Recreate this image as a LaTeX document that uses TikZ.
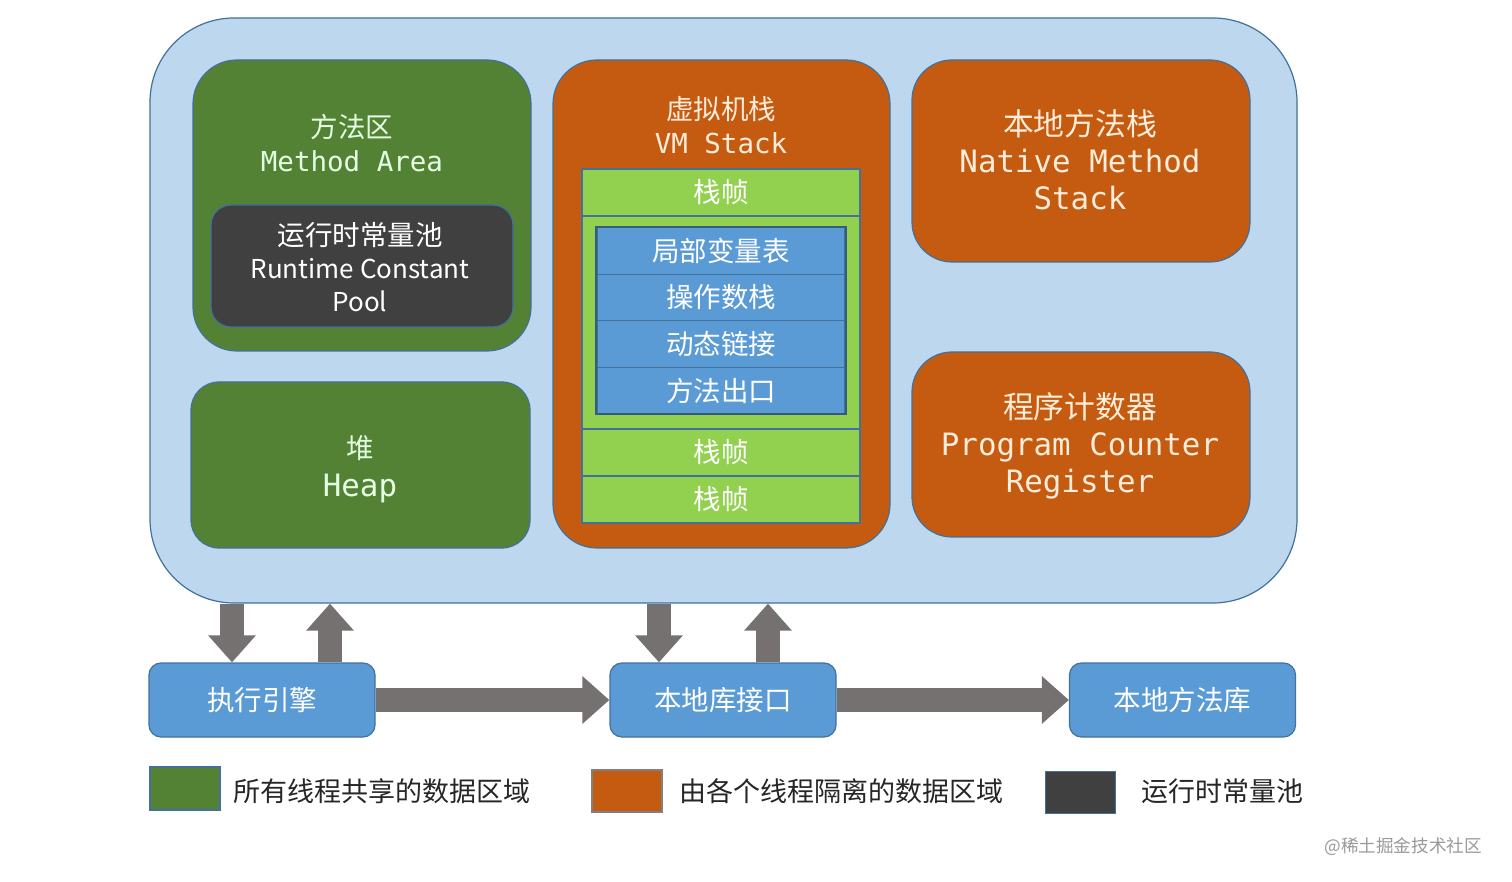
\documentclass[tikz,border=0pt]{standalone}
\usepackage{fontspec}
\setmainfont{Noto Sans CJK SC}
\newfontfamily\monofont{DejaVu Sans Mono}
\usetikzlibrary{arrows.meta,fit}

\definecolor{jvmblue}{HTML}{BDD7EE}
\definecolor{edgeblue}{HTML}{41719C}
\definecolor{sharedgreen}{HTML}{548235}
\definecolor{threadorange}{HTML}{C55A11}
\definecolor{pooldark}{HTML}{404040}
\definecolor{framegreen}{HTML}{92D050}
\definecolor{cellblue}{HTML}{5B9BD5}
\definecolor{arrowgray}{HTML}{767171}
\definecolor{legendink}{HTML}{262626}

\tikzset{
    region/.style={draw=edgeblue, line width=0.6pt, inner sep=0pt},
    shared/.style={region, fill=sharedgreen, rounded corners=22pt},
    private/.style={region, fill=threadorange, rounded corners=22pt},
    pool/.style={region, fill=pooldark, rounded corners=10pt},
    frame/.style={region, fill=framegreen, text=white, minimum width=139pt, minimum height=23.5pt},
    cell/.style={region, fill=cellblue, text=white, minimum width=124pt, minimum height=23.25pt},
    engine/.style={region, fill=cellblue, text=white, rounded corners=6pt, minimum width=113pt, minimum height=37pt},
    swatch/.style={region, minimum width=35pt, minimum height=21pt},
    caption/.style={align=center, font=\fontsize{13.75pt}{16.75pt}\selectfont},
    bigcaption/.style={align=center, font=\fontsize{15.4pt}{18.5pt}\selectfont},
    keytext/.style={anchor=west, text=legendink, font=\fontsize{13.5pt}{16pt}\selectfont},
    bigarrow/.style={draw=arrowgray, line width=12pt, -{Triangle[length=13.5pt, width=23pt, fill=arrowgray]}},
}

\begin{document}
\begin{tikzpicture}[x=0.5pt, y=-0.5pt]
    \useasboundingbox (0,0) rectangle (1512,882);
    \fill[white] (0,0) rectangle (1512,882);

    \node[region, fill=jvmblue, rounded corners=42pt, fit={(150,18) (1297,603)}] (jvm) {};

    % shared areas
    \node[shared, fit={(193,60) (531,351)}] (method) {};
    \node[caption, text=white!90!green] (method-text) at (352,143) {方法区\\{\monofont Method Area}};
    \node[pool, fit={(211,205) (513,327)}] (pool) {};
    \node[caption, text=white, font=\fontsize{13.75pt}{16.5pt}\selectfont] (pool-text) at (360,267) {运行时常量池\\{\fontsize{13pt}{16.5pt}\selectfont Runtime Constant}\\{\fontsize{13pt}{16.5pt}\selectfont Pool}};
    \node[shared, rounded corners=14pt, fit={(191,382) (530,548)}] (heap) {};
    \node[bigcaption, text=white!90!green, font=\fontsize{15.4pt}{19pt}\selectfont] (heap-text) at (360,469) {{\fontsize{13.75pt}{19pt}\selectfont 堆}\\{\monofont Heap}};

    % vm stack
    \node[private, fit={(553,60) (890,548)}] (vmstack) {};
    \node[caption, text=white!85!orange] (vmstack-text) at (721,125) {虚拟机栈\\{\monofont VM Stack}};
    \node[frame, caption] (frame1) at (721,192.5) {栈帧};
    \node[frame, fit={(582,216) (860,429)}] (frame2) {};
    \node[frame, caption] (frame3) at (721,452.5) {栈帧};
    \node[frame, caption] (frame4) at (721,499.5) {栈帧};
    \node[cell, caption] (cell1) at (721,251) {局部变量表};
    \node[cell, caption] (cell2) at (721,297.5) {操作数栈};
    \node[cell, caption] (cell3) at (721,344) {动态链接};
    \node[cell, caption] (cell4) at (721,390.5) {方法出口};
    \draw[edgeblue!80!black, line width=1pt] (cell1.north west) rectangle (cell4.south east);

    % native method stack and pc register
    \node[private, rounded corners=20pt, fit={(912,60) (1250,262)}] (native) {};
    \node[bigcaption, text=white!85!orange] (native-text) at (1080,160) {本地方法栈\\{\monofont Native Method}\\{\monofont Stack}};
    \node[private, rounded corners=20pt, fit={(912,352) (1250,537)}] (pc) {};
    \node[bigcaption, text=white!85!orange] (pc-text) at (1080,446) {程序计数器\\{\monofont Program Counter}\\{\monofont Register}};

    % engines
    \node[engine, caption] (exec) at (262,700) {执行引擎};
    \node[engine, caption] (jni) at (723,700) {本地库接口};
    \node[engine, caption] (lib) at (1182.5,700) {本地方法库};

    \draw[bigarrow] ([xshift=-15pt]exec.north |- jvm.south) -- ([xshift=-15pt]exec.north);
    \draw[bigarrow] ([xshift=34pt]exec.north) -- ([xshift=34pt]exec.north |- jvm.south);
    \draw[bigarrow] ([xshift=-32pt]jni.north |- jvm.south) -- ([xshift=-32pt]jni.north);
    \draw[bigarrow] ([xshift=22.5pt]jni.north) -- ([xshift=22.5pt]jni.north |- jvm.south);
    \draw[bigarrow] (exec.east) -- (jni.west);
    \draw[bigarrow] (jni.east) -- (lib.west);

    % legend
    \node[swatch, fill=sharedgreen, fit={(150,767) (220,810)}] (key-shared) {};
    \node[keytext] (key-shared-text) at (226,791) {所有线程共享的数据区域};
    \node[swatch, fill=threadorange, draw=gray, fit={(593,774) (661,808)}] (key-private) {};
    \node[keytext] (key-private-text) at (672,791) {由各个线程隔离的数据区域};
    \node[swatch, fill=pooldark, fit={(1046,775) (1115,810)}] (key-pool) {};
    \node[keytext] (key-pool-text) at (1134,791) {运行时常量池};

    \node[text=gray!80, font=\fontsize{8.8pt}{10pt}\selectfont, anchor=east] (mark) at (1489,847) {@稀土掘金技术社区};
\end{tikzpicture}
\end{document}
